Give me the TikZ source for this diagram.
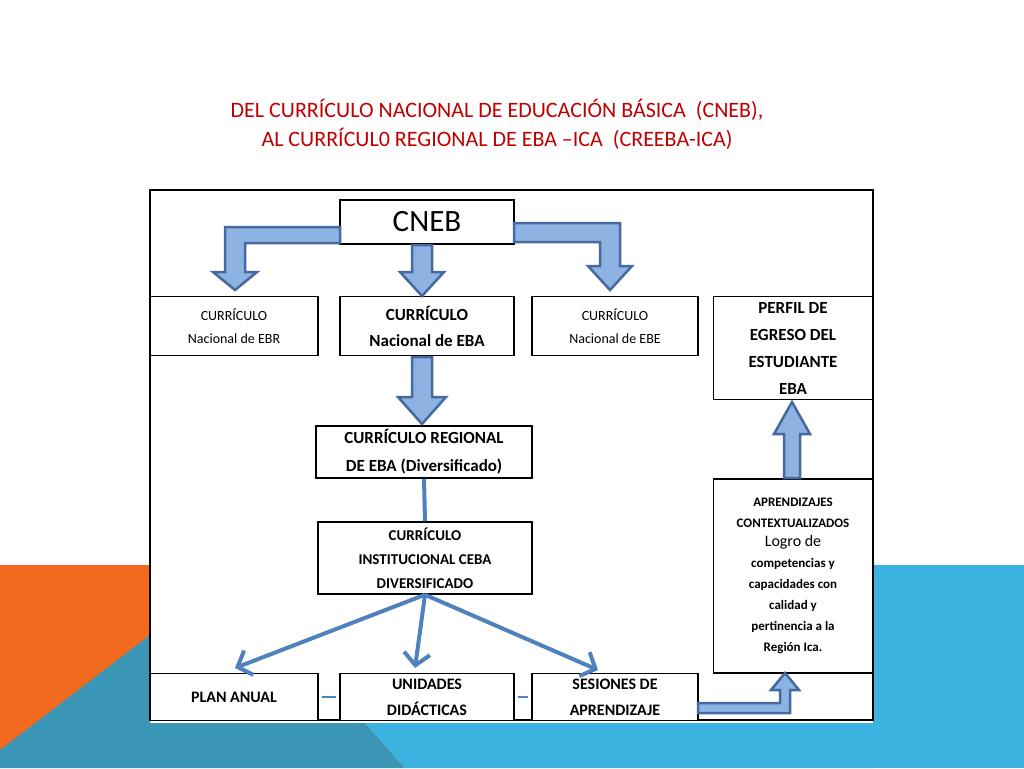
\documentclass[tikz,border=0pt]{standalone}
\usepackage{fontspec}
\setmainfont{Carlito}
\usetikzlibrary{arrows.meta}
\definecolor{slide_orange}{RGB}{242,106,30}
\definecolor{slide_teal}{RGB}{58,150,180}
\definecolor{slide_blue}{RGB}{60,178,224}
\definecolor{fat_fill}{RGB}{141,179,226}
\definecolor{fat_draw}{RGB}{70,105,160}
\definecolor{thin_blue}{RGB}{79,129,189}
\definecolor{title_red}{RGB}{192,0,0}
\tikzset{box/.style={draw,line width=1.5pt,fill=white,align=center,inner sep=2pt}}
\tikzset{fat/.style={draw=fat_draw,fill=fat_fill,line width=2.5pt,line join=miter}}
\tikzset{thin/.style={draw=thin_blue,line width=4pt,-{Straight Barb[length=12pt,width=26pt]}}}
\begin{document}
\begin{tikzpicture}[x=1pt,y=-1pt]
    \useasboundingbox (0,0) rectangle (1024,768);
    % background
    \fill[slide_orange] (0,565) rectangle (150,768);
    \fill[slide_teal] (0,750) -- (150,635) -- (150,723) -- (365,723) -- (405,768) -- (0,768) -- cycle;
    \fill[slide_blue] (873,565) rectangle (1024,768);
    \fill[slide_blue] (365,723) -- (873,723) -- (873,768) -- (405,768) -- cycle;
    % title
    \node[text=title_red,font=\fontsize{22}{29}\selectfont,align=center] (title) at (497,124)
        {DEL CURRÍCULO NACIONAL DE EDUCACIÓN BÁSICA\ \ (CNEB),\\AL CURRÍCUL0 REGIONAL DE EBA –ICA\ \ (CREEBA-ICA)};
    \draw[line width=1.5pt,fill=white] (150,190) rectangle (873,720);

    % boxes
    \node[box,minimum width=174,minimum height=44,font=\fontsize{31}{32}\selectfont] (cneb) at (427,222) {CNEB};
    \node[box,minimum width=168,minimum height=59,font=\fontsize{14}{23}\selectfont] (ebr) at (234,326) {CURRÍCULO\\Nacional de EBR};
    \node[box,minimum width=174,minimum height=59,font=\bfseries\fontsize{17}{26}\selectfont] (eba) at (427,326) {CURRÍCULO\\Nacional de EBA};
    \node[box,minimum width=166,minimum height=59,font=\fontsize{14}{23}\selectfont] (ebe) at (615,326) {CURRÍCULO\\Nacional de EBE};
    \node[box,minimum width=159,minimum height=103,font=\bfseries\fontsize{17}{27}\selectfont] (perfil) at (793,348) {PERFIL DE\\EGRESO DEL\\ESTUDIANTE\\EBA};
    \node[box,minimum width=216,minimum height=52,font=\bfseries\fontsize{17}{28}\selectfont] (regional) at (424,452) {CURRÍCULO REGIONAL\\DE EBA (Diversificado)};
    \node[box,minimum width=214,minimum height=72,font=\bfseries\fontsize{15}{24}\selectfont] (instit) at (425,558) {CURRÍCULO\\INSTITUCIONAL CEBA\\DIVERSIFICADO};
    \node[box,minimum width=159,minimum height=194,anchor=north,font=\bfseries\fontsize{13}{21}\selectfont] (logro) at (793,478)
        {APRENDIZAJES\\CONTEXTUALIZADOS\\[-2pt]\mdseries\fontsize{16}{26}\selectfont Logro de\\competencias y\\capacidades con\\calidad y\\pertinencia a la\\Región Ica.};
    \node[box,minimum width=168,minimum height=47,font=\bfseries\fontsize{16}{24}\selectfont] (plan) at (234,697) {PLAN ANUAL};
    \node[box,minimum width=174,minimum height=47,font=\bfseries\fontsize{16}{26}\selectfont] (unidades) at (427,697) {UNIDADES\\DIDÁCTICAS};
    \node[box,minimum width=166,minimum height=47,font=\bfseries\fontsize{16}{26}\selectfont] (sesiones) at (615,697) {SESIONES DE\\APRENDIZAJE};

    % fat arrows
    \path[fat] (340,227) -- (225,227) -- (225,272) -- (213,272) -- (235,290) -- (257,272) -- (245,272) -- (245,243) -- (340,243) -- cycle;
    \path[fat] (514,223) -- (620,223) -- (620,266) -- (632,266) -- (610,290) -- (588,266) -- (600,266) -- (600,242) -- (514,242) -- cycle;
    \path[fat] (412,245) -- (432,245) -- (432,272) -- (444,272) -- (422,296) -- (400,272) -- (412,272) -- cycle;
    \path[fat] (412,357) -- (432,357) -- (432,397) -- (446,397) -- (422,424) -- (398,397) -- (412,397) -- cycle;
    \path[fat] (784,478) -- (800,478) -- (800,434) -- (810,434) -- (792,402) -- (774,434) -- (784,434) -- cycle;
    \path[fat] (698,703) -- (780,703) -- (780,690) -- (771,690) -- (785,673) -- (799,690) -- (790,690) -- (790,713) -- (698,713) -- cycle;

    % thin connectors
    \draw[draw=thin_blue,line width=4pt] (regional.south) -- (instit.north);
    \draw[thin] (instit.south) -- (235,668);
    \draw[thin] (instit.south) -- (415,668);
    \draw[thin] (instit.south) -- (598,670);
    \draw[draw=thin_blue,line width=2.5pt] ([xshift=3]plan.east) -- ([xshift=-3]unidades.west);
    \draw[draw=thin_blue,line width=2.5pt] ([xshift=3]unidades.east) -- ([xshift=-3]sesiones.west);
\end{tikzpicture}
\end{document}
